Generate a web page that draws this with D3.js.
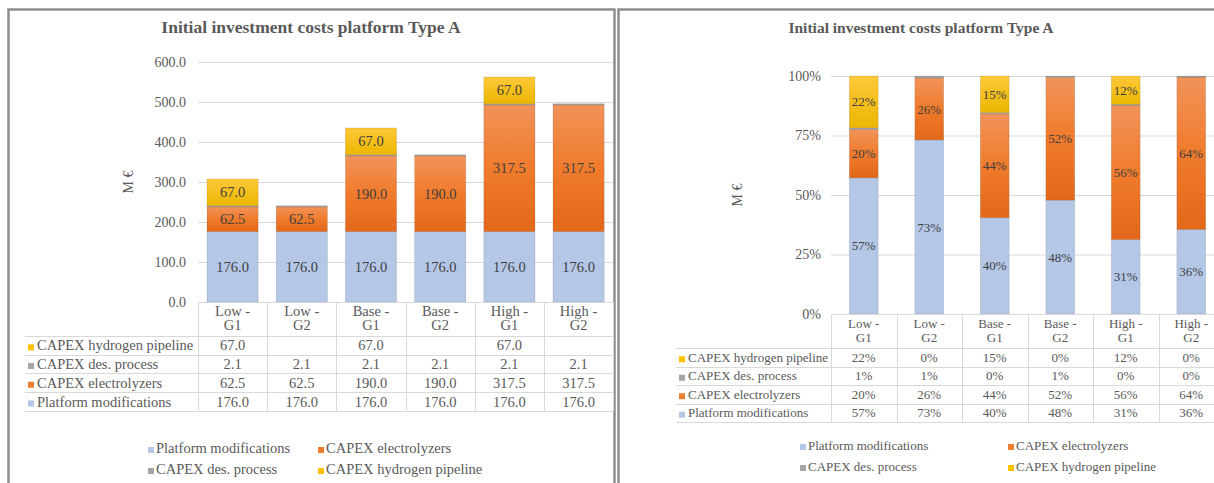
<!DOCTYPE html>
<html>
<head>
<meta charset="utf-8">
<script src="https://cdn.jsdelivr.net/npm/d3@7"></script>
<style>
  body { margin: 0; background: #fff; }
  text { font-family: "Liberation Serif", "Times New Roman", serif; fill: #595959; }
</style>
</head>
<body>
<script>
// chart data
const categories = ["Low - G1", "Low - G2", "Base - G1", "Base - G2", "High - G1", "High - G2"];
const seriesNames = ["Platform modifications", "CAPEX electrolyzers", "CAPEX des. process", "CAPEX hydrogen pipeline"];
const platformMods = [176.0, 176.0, 176.0, 176.0, 176.0, 176.0];
const electrolyzers = [62.5, 62.5, 190.0, 190.0, 317.5, 317.5];
const desProcess = [2.1, 2.1, 2.1, 2.1, 2.1, 2.1];
const h2Pipeline = [67.0, null, 67.0, null, 67.0, null];
const absTicks = [0, 100, 200, 300, 400, 500, 600];
const pctTicks = [0, 0.25, 0.5, 0.75, 1];
const chartTitle = "Initial investment costs platform Type A";
const yTitle = "M €";

const keys = ["pm", "el", "dp", "hp"];
const seriesByKey = { pm: platformMods, el: electrolyzers, dp: desProcess, hp: h2Pipeline };
const rows = categories.map((c, i) => {
    const r = { cat: c };
    keys.forEach(k => r[k] = seriesByKey[k][i] == null ? 0 : seriesByKey[k][i]);
    r.total = keys.reduce((s, k) => s + r[k], 0);
    return r;
});

const W = 1214, H = 483;
const svg = d3.select("body").append("svg").attr("width", W).attr("height", H);

// gradients like excel bars
const defs = svg.append("defs");
function grad(id, stops) {
    const g = defs.append("linearGradient").attr("id", id)
        .attr("x1", 0).attr("y1", 0).attr("x2", 0).attr("y2", 1);
    stops.forEach(s => g.append("stop").attr("offset", s[0]).attr("stop-color", s[1]));
}
grad("gOrange", [[0, "#F1935A"], [0.5, "#F07B2C"], [1, "#E2681A"]]);
grad("gYellow", [[0, "#FFC83A"], [1, "#EBB700"]]);
const fills = { pm: "#B4C7E7", el: "url(#gOrange)", dp: "#A5A5A5", hp: "url(#gYellow)" };
const keyColors = { pm: "#B4C7E7", el: "#ED7D31", dp: "#A5A5A5", hp: "#FFC000" };
const names = { pm: seriesNames[0], el: seriesNames[1], dp: seriesNames[2], hp: seriesNames[3] };

const fmtAbs = d3.format(".1f");
const fmtPct = d3.format(".0%");

function drawPanel(o) {
    const g = svg.append("g");
    const fs = o.fontSize;

    // frame
    g.append("rect")
        .attr("x", o.frameX).attr("y", 9.5).attr("width", o.frameW).attr("height", 520)
        .attr("fill", "none").attr("stroke", "#8E8E8E").attr("stroke-width", 2.5);

    g.append("text")
        .attr("x", o.titleX).attr("y", 33)
        .attr("text-anchor", "middle")
        .attr("font-size", o.titleSize).attr("font-weight", "bold")
        .text(chartTitle);

    const x = d3.scaleBand().domain(categories).range([o.x0, o.x0 + o.colW * categories.length]);
    const y = d3.scaleLinear().domain(o.domain).range([o.y0, o.yTop]);

    // gridlines + tick labels
    g.append("g").selectAll("line").data(o.ticks).join("line")
        .attr("x1", o.x0).attr("x2", o.gridEnd)
        .attr("y1", d => y(d) + 0.5).attr("y2", d => y(d) + 0.5)
        .attr("stroke", "#D9D9D9");
    g.append("g").selectAll("text").data(o.ticks).join("text")
        .attr("x", o.x0 - o.tickPad).attr("y", d => y(d))
        .attr("dy", "0.35em").attr("text-anchor", "end")
        .attr("font-size", 14)
        .text(o.tickFmt);

    g.append("text")
        .attr("transform", `translate(${o.yTitleX},${(o.y0 + o.yTop) / 2}) rotate(-90)`)
        .attr("text-anchor", "middle").attr("dy", "0.35em")
        .attr("font-size", 14)
        .text(yTitle);

    const stack = d3.stack().keys(keys);
    if (o.pct) stack.offset(d3.stackOffsetExpand);
    const stacked = stack(rows);

    const bw = x.bandwidth() * o.barFrac;
    const bx = c => x(c) + (x.bandwidth() - bw) / 2;

    const layers = g.append("g").selectAll("g").data(stacked).join("g")
        .attr("fill", d => fills[d.key]);
    layers.selectAll("rect").data(d => d.filter(p => p[1] - p[0] > 0)).join("rect")
        .attr("x", d => bx(d.data.cat))
        .attr("y", d => y(d[1]))
        .attr("width", bw)
        .attr("height", d => Math.max(y(d[0]) - y(d[1]), 1.2))
        .attr("stroke", "rgba(0,0,0,0.12)").attr("stroke-width", 0.8);

    // segment labels (des. process has none)
    stacked.filter(s => s.key !== "dp").forEach(s => {
        g.append("g").selectAll("text").data(s.filter(p => p[1] - p[0] > 0)).join("text")
            .attr("x", d => x(d.data.cat) + x.bandwidth() / 2)
            .attr("y", d => (y(d[0]) + y(d[1])) / 2)
            .attr("dy", "0.35em").attr("text-anchor", "middle")
            .attr("font-size", fs).style("fill", "#404040")
            .text(d => o.pct ? fmtPct(d.data[s.key] / d.data.total) : fmtAbs(d.data[s.key]));
    });

    // data table
    const tableRows = ["hp", "dp", "el", "pm"];
    const tTop = o.y0 + o.headH;
    const tBot = tTop + o.rowH * tableRows.length;
    const xEnd = o.x0 + o.colW * categories.length;
    const tl = g.append("g").attr("stroke", "#D9D9D9").attr("stroke-width", 1);
    tl.selectAll("line.v").data(d3.range(categories.length + 1)).join("line")
        .attr("x1", i => Math.round(o.x0 + i * o.colW) + 0.5)
        .attr("x2", i => Math.round(o.x0 + i * o.colW) + 0.5)
        .attr("y1", o.y0).attr("y2", tBot);
    tl.append("line").attr("x1", o.x0).attr("x2", xEnd).attr("y1", o.y0 + 0.5).attr("y2", o.y0 + 0.5);
    tl.selectAll("line.h").data(d3.range(tableRows.length + 1)).join("line")
        .attr("x1", o.labelX).attr("x2", xEnd)
        .attr("y1", i => Math.round(tTop + i * o.rowH) + 0.5)
        .attr("y2", i => Math.round(tTop + i * o.rowH) + 0.5);

    // category headers
    const hdr = g.append("g").selectAll("text").data(categories).join("text")
        .attr("x", c => x(c) + x.bandwidth() / 2)
        .attr("text-anchor", "middle").attr("font-size", fs);
    hdr.append("tspan").attr("x", c => x(c) + x.bandwidth() / 2)
        .attr("y", o.y0 + 14).text(c => c.split(" - ")[0] + " -");
    hdr.append("tspan").attr("x", c => x(c) + x.bandwidth() / 2)
        .attr("y", o.y0 + 28).text(c => c.split(" - ")[1]);

    tableRows.forEach((k, ri) => {
        const cy = tTop + ri * o.rowH + o.rowH / 2;
        g.append("rect").attr("x", o.labelX + 3).attr("y", cy - 1).attr("width", 6).attr("height", 6)
            .attr("fill", keyColors[k]);
        g.append("text").attr("x", o.labelX + 12).attr("y", cy).attr("dy", "0.35em")
            .attr("font-size", fs).text(names[k]);
        g.append("g").selectAll("text").data(rows).join("text")
            .attr("x", d => x(d.cat) + x.bandwidth() / 2)
            .attr("y", cy).attr("dy", "0.35em").attr("text-anchor", "middle")
            .attr("font-size", fs)
            .text((d, i) => {
                if (o.pct) return fmtPct(d[k] / d.total);
                return seriesByKey[k][i] == null ? "" : fmtAbs(seriesByKey[k][i]);
            });
    });

    // legend
    const leg = [["pm", 0, 0], ["el", 1, 0], ["dp", 0, 1], ["hp", 1, 1]];
    leg.forEach(([k, c, r]) => {
        const lx = o.legX[c], ly = o.legY[r];
        g.append("rect").attr("x", lx).attr("y", ly - 1).attr("width", 6).attr("height", 6)
            .attr("fill", keyColors[k]);
        g.append("text").attr("x", lx + 8).attr("y", ly).attr("dy", "0.35em")
            .attr("font-size", fs).text(names[k]);
    });
}

drawPanel({
    frameX: 8.5, frameW: 606, titleX: 311, titleSize: 17.5, fontSize: 14.5,
    x0: 198, colW: 69.2, y0: 302, yTop: 62, gridEnd: 613,
    domain: [0, 600], ticks: absTicks, tickFmt: fmtAbs, tickPad: 12,
    yTitleX: 128, barFrac: 0.74, pct: false,
    headH: 34, rowH: 18.7, labelX: 25,
    legX: [148, 318], legY: [448, 469]
});

drawPanel({
    frameX: 618.5, frameW: 700, titleX: 921, titleSize: 15.5, fontSize: 13,
    x0: 831, colW: 65.5, y0: 314, yTop: 76, gridEnd: 1214,
    domain: [0, 1], ticks: pctTicks, tickFmt: fmtPct, tickPad: 10,
    yTitleX: 737, barFrac: 0.44, pct: true,
    headH: 34, rowH: 18.5, labelX: 676,
    legX: [800, 1008], legY: [445, 466]
});
</script>
</body>
</html>
